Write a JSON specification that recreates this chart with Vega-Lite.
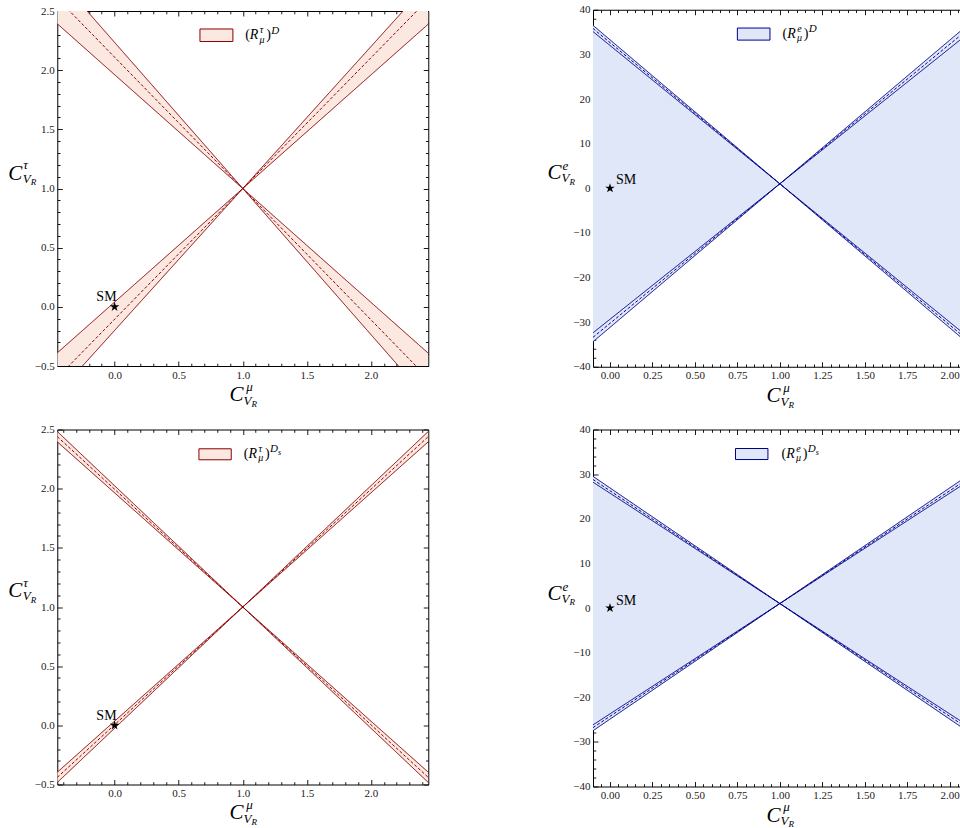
{
  "$schema": "https://vega.github.io/schema/vega-lite/v6.json",
  "background": "white",
  "padding": {"left": 8, "top": 3.5, "right": 0, "bottom": 0},
  "config": {
    "view": {"stroke": null},
    "axis": {"labelFont": "Liberation Serif", "labelFontSize": 11, "labelColor": "#222", "domainColor": "#000", "tickColor": "#000", "domainWidth": 1, "tickWidth": 0.9, "labelOverlap": false, "labelFlush": false, "grid": false, "zindex": 1, "labelPadding": 8},
    "text": {"font": "Liberation Serif", "color": "#000"}
  },
  "datasets": {
    "sm": [{"x": 0, "y": 0, "label": "SM"}],
    "tl_band": [
      {"branch": "down", "x": -0.447, "lo": 2.392, "hi": 2.787},
      {"branch": "down", "x": 1, "lo": 1, "hi": 1},
      {"branch": "down", "x": 2.447, "lo": -0.392, "hi": -0.787},
      {"branch": "up", "x": -0.447, "lo": -0.389, "hi": -0.736},
      {"branch": "up", "x": 1, "lo": 1, "hi": 1},
      {"branch": "up", "x": 2.447, "lo": 2.389, "hi": 2.736}
    ],
    "tl_lines": [
      {"line": "down_outer", "kind": "edge", "x": -0.447, "y": 2.392},
      {"line": "down_outer", "kind": "edge", "x": 2.447, "y": -0.392},
      {"line": "down_mid", "kind": "central", "x": -0.447, "y": 2.606},
      {"line": "down_mid", "kind": "central", "x": 2.447, "y": -0.606},
      {"line": "down_inner", "kind": "edge", "x": -0.447, "y": 2.787},
      {"line": "down_inner", "kind": "edge", "x": 2.447, "y": -0.787},
      {"line": "up_outer", "kind": "edge", "x": -0.447, "y": -0.389},
      {"line": "up_outer", "kind": "edge", "x": 2.447, "y": 2.389},
      {"line": "up_mid", "kind": "central", "x": -0.447, "y": -0.599},
      {"line": "up_mid", "kind": "central", "x": 2.447, "y": 2.599},
      {"line": "up_inner", "kind": "edge", "x": -0.447, "y": -0.736},
      {"line": "up_inner", "kind": "edge", "x": 2.447, "y": 2.736}
    ],
    "bl_band": [
      {"branch": "down", "x": -0.447, "lo": 2.396, "hi": 2.483},
      {"branch": "down", "x": 1, "lo": 1, "hi": 1},
      {"branch": "down", "x": 2.447, "lo": -0.396, "hi": -0.483},
      {"branch": "up", "x": -0.447, "lo": -0.396, "hi": -0.483},
      {"branch": "up", "x": 1, "lo": 1, "hi": 1},
      {"branch": "up", "x": 2.447, "lo": 2.396, "hi": 2.483}
    ],
    "bl_lines": [
      {"line": "down_outer", "kind": "edge", "x": -0.447, "y": 2.396},
      {"line": "down_outer", "kind": "edge", "x": 2.447, "y": -0.396},
      {"line": "down_mid", "kind": "central", "x": -0.447, "y": 2.44},
      {"line": "down_mid", "kind": "central", "x": 2.447, "y": -0.44},
      {"line": "down_inner", "kind": "edge", "x": -0.447, "y": 2.483},
      {"line": "down_inner", "kind": "edge", "x": 2.447, "y": -0.483},
      {"line": "up_outer", "kind": "edge", "x": -0.447, "y": -0.396},
      {"line": "up_outer", "kind": "edge", "x": 2.447, "y": 2.396},
      {"line": "up_mid", "kind": "central", "x": -0.447, "y": -0.44},
      {"line": "up_mid", "kind": "central", "x": 2.447, "y": 2.44},
      {"line": "up_inner", "kind": "edge", "x": -0.447, "y": -0.483},
      {"line": "up_inner", "kind": "edge", "x": 2.447, "y": 2.483}
    ],
    "tr_band": [
      {"branch": "wedge", "x": -0.1, "lo": -34.4, "hi": 36.5},
      {"branch": "wedge", "x": 1, "lo": 1, "hi": 1},
      {"branch": "wedge", "x": 2.1, "lo": -34.5, "hi": 36.4}
    ],
    "tr_lines": [
      {"line": "down_outer", "kind": "edge", "x": -0.1, "y": 36.5},
      {"line": "down_outer", "kind": "edge", "x": 2.1, "y": -34.5},
      {"line": "down_mid", "kind": "central", "x": -0.1, "y": 35.8},
      {"line": "down_mid", "kind": "central", "x": 2.1, "y": -33.8},
      {"line": "down_inner", "kind": "edge", "x": -0.1, "y": 35.1},
      {"line": "down_inner", "kind": "edge", "x": 2.1, "y": -33.1},
      {"line": "up_outer", "kind": "edge", "x": -0.1, "y": -34.4},
      {"line": "up_outer", "kind": "edge", "x": 2.1, "y": 36.4},
      {"line": "up_mid", "kind": "central", "x": -0.1, "y": -33.4},
      {"line": "up_mid", "kind": "central", "x": 2.1, "y": 35.4},
      {"line": "up_inner", "kind": "edge", "x": -0.1, "y": -32.4},
      {"line": "up_inner", "kind": "edge", "x": 2.1, "y": 34.4}
    ],
    "br_band": [
      {"branch": "wedge", "x": -0.1, "lo": -27.5, "hi": 29.5},
      {"branch": "wedge", "x": 1, "lo": 1, "hi": 1},
      {"branch": "wedge", "x": 2.1, "lo": -27.5, "hi": 29.5}
    ],
    "br_lines": [
      {"line": "down_outer", "kind": "edge", "x": -0.1, "y": 29.5},
      {"line": "down_outer", "kind": "edge", "x": 2.1, "y": -27.5},
      {"line": "down_mid", "kind": "central", "x": -0.1, "y": 28.8},
      {"line": "down_mid", "kind": "central", "x": 2.1, "y": -26.8},
      {"line": "down_inner", "kind": "edge", "x": -0.1, "y": 28.2},
      {"line": "down_inner", "kind": "edge", "x": 2.1, "y": -26.2},
      {"line": "up_outer", "kind": "edge", "x": -0.1, "y": -27.5},
      {"line": "up_outer", "kind": "edge", "x": 2.1, "y": 29.5},
      {"line": "up_mid", "kind": "central", "x": -0.1, "y": -26.8},
      {"line": "up_mid", "kind": "central", "x": 2.1, "y": 28.8},
      {"line": "up_inner", "kind": "edge", "x": -0.1, "y": -26.2},
      {"line": "up_inner", "kind": "edge", "x": 2.1, "y": 28.2}
    ]
  },
  "align": "each",
  "center": true,
  "columns": 2,
  "spacing": {"row": 13, "column": 118},
  "concat": [
    {
      "width": 371, "height": 355,
      "data": {"name": "sm"},
      "resolve": {"axis": {"x": "independent", "y": "independent"}},
      "layer": [
        {
          "layer": [
            {"data": {"name": "tl_band"}, "mark": {"type": "area", "fill": "#fbe8e1", "clip": true},
             "encoding": {
               "x": {"field": "x", "type": "quantitative", "scale": {"domain": [-0.447, 2.447], "nice": false, "zero": false},
                     "axis": {"orient": "bottom", "title": null, "values": [0, 0.5, 1, 1.5, 2], "format": ".1f", "tickSize": -5}},
               "y": {"field": "lo", "type": "quantitative", "scale": {"domain": [-0.5, 2.5], "nice": false, "zero": false},
                     "axis": {"orient": "left", "title": null, "values": [-0.5, 0, 0.5, 1, 1.5, 2, 2.5], "format": ".1f", "tickSize": -5}},
               "y2": {"field": "hi"},
               "detail": {"field": "branch", "type": "nominal"}
             }},
            {"data": {"name": "tl_lines"}, "mark": {"type": "line", "stroke": "#8b0000", "strokeWidth": 1, "clip": true},
             "encoding": {
               "x": {"field": "x", "type": "quantitative"},
               "y": {"field": "y", "type": "quantitative"},
               "detail": {"field": "line", "type": "nominal"},
               "strokeDash": {"field": "kind", "type": "nominal", "scale": {"domain": ["edge", "central"], "range": [[1, 0], [3, 2]]}, "legend": null}
             }},
            {"mark": {"type": "point", "shape": "M0,-1L0.2245,-0.309L0.951,-0.309L0.363,0.118L0.588,0.809L0,0.382L-0.588,0.809L-0.363,0.118L-0.951,-0.309L-0.2245,-0.309Z", "filled": true, "color": "#000", "size": 100, "opacity": 1},
             "encoding": {"x": {"field": "x", "type": "quantitative"}, "y": {"field": "y", "type": "quantitative"}}},
            {"mark": {"type": "text", "fontSize": 14, "align": "right", "baseline": "alphabetic", "dx": 2, "dy": -6},
             "encoding": {"x": {"field": "x", "type": "quantitative"}, "y": {"field": "y", "type": "quantitative"}, "text": {"field": "label"}}},
            {"mark": {"type": "rect", "fill": "#fbe8e1", "stroke": "#8b0000", "strokeWidth": 1},
             "encoding": {"x": {"datum": 0.666}, "x2": {"datum": 0.923}, "y": {"datum": 2.348}, "y2": {"datum": 2.242}}},
            {"mark": {"type": "text", "text": "(", "fontSize": 14, "align": "left", "baseline": "alphabetic", "dx": 2.4, "dy": 28}, "encoding": {"x": {"datum": 1}, "y": {"datum": 2.5}}},
            {"mark": {"type": "text", "text": "R", "fontSize": 14, "fontStyle": "italic", "align": "left", "baseline": "alphabetic", "dx": 7, "dy": 28}, "encoding": {"x": {"datum": 1}, "y": {"datum": 2.5}}},
            {"mark": {"type": "text", "text": "τ", "fontSize": 10, "fontStyle": "italic", "align": "left", "baseline": "alphabetic", "dx": 17, "dy": 22}, "encoding": {"x": {"datum": 1}, "y": {"datum": 2.5}}},
            {"mark": {"type": "text", "text": "μ", "fontSize": 10, "fontStyle": "italic", "align": "left", "baseline": "alphabetic", "dx": 16.8, "dy": 31.5}, "encoding": {"x": {"datum": 1}, "y": {"datum": 2.5}}},
            {"mark": {"type": "text", "text": ")", "fontSize": 14, "align": "left", "baseline": "alphabetic", "dx": 23.5, "dy": 28}, "encoding": {"x": {"datum": 1}, "y": {"datum": 2.5}}},
            {"mark": {"type": "text", "text": "D", "fontSize": 11, "fontStyle": "italic", "align": "left", "baseline": "alphabetic", "dx": 28.5, "dy": 22.5}, "encoding": {"x": {"datum": 1}, "y": {"datum": 2.5}}},
            {"mark": {"type": "text", "text": "C", "fontSize": 21, "fontStyle": "italic", "align": "left", "baseline": "alphabetic", "dx": -13.3, "dy": 35}, "encoding": {"x": {"datum": 1}, "y": {"datum": -0.5}}},
            {"mark": {"type": "text", "text": "μ", "fontSize": 13, "fontStyle": "italic", "align": "left", "baseline": "alphabetic", "dx": 3.4, "dy": 24.5}, "encoding": {"x": {"datum": 1}, "y": {"datum": -0.5}}},
            {"mark": {"type": "text", "text": "V", "fontSize": 13, "fontStyle": "italic", "align": "left", "baseline": "alphabetic", "dx": 0.7, "dy": 39}, "encoding": {"x": {"datum": 1}, "y": {"datum": -0.5}}},
            {"mark": {"type": "text", "text": "R", "fontSize": 9, "fontStyle": "italic", "align": "left", "baseline": "alphabetic", "dx": 8.7, "dy": 41}, "encoding": {"x": {"datum": 1}, "y": {"datum": -0.5}}},
            {"mark": {"type": "text", "text": "C", "fontSize": 21, "fontStyle": "italic", "align": "left", "baseline": "alphabetic", "dx": -49, "dy": -9}, "encoding": {"x": {"datum": -0.447}, "y": {"datum": 1}}},
            {"mark": {"type": "text", "text": "τ", "fontSize": 13, "fontStyle": "italic", "align": "left", "baseline": "alphabetic", "dx": -34, "dy": -19.5}, "encoding": {"x": {"datum": -0.447}, "y": {"datum": 1}}},
            {"mark": {"type": "text", "text": "V", "fontSize": 13, "fontStyle": "italic", "align": "left", "baseline": "alphabetic", "dx": -34.6, "dy": -6}, "encoding": {"x": {"datum": -0.447}, "y": {"datum": 1}}},
            {"mark": {"type": "text", "text": "R", "fontSize": 9, "fontStyle": "italic", "align": "left", "baseline": "alphabetic", "dx": -26.6, "dy": -3.5}, "encoding": {"x": {"datum": -0.447}, "y": {"datum": 1}}}
          ]
        },
        {"mark": {"type": "point", "opacity": 0},
         "encoding": {
           "x": {"field": "x", "type": "quantitative", "axis": {"orient": "top", "title": null, "labels": false, "values": [0, 0.5, 1, 1.5, 2], "tickSize": -5}},
           "y": {"field": "y", "type": "quantitative", "axis": {"orient": "right", "title": null, "labels": false, "values": [-0.5, 0, 0.5, 1, 1.5, 2, 2.5], "tickSize": -5}}
         }},
        {"mark": {"type": "point", "opacity": 0},
         "encoding": {
           "x": {"field": "x", "type": "quantitative", "axis": {"orient": "bottom", "title": null, "labels": false, "domain": false, "values": [-0.4,-0.3,-0.2,-0.1,0.1,0.2,0.3,0.4,0.6,0.7,0.8,0.9,1.1,1.2,1.3,1.4,1.6,1.7,1.8,1.9,2.1,2.2,2.3,2.4], "tickSize": -2.8}},
           "y": {"field": "y", "type": "quantitative", "axis": {"orient": "left", "title": null, "labels": false, "domain": false, "values": [-0.4,-0.3,-0.2,-0.1,0.1,0.2,0.3,0.4,0.6,0.7,0.8,0.9,1.1,1.2,1.3,1.4,1.6,1.7,1.8,1.9,2.1,2.2,2.3,2.4], "tickSize": -2.8}}
         }},
        {"mark": {"type": "point", "opacity": 0},
         "encoding": {
           "x": {"field": "x", "type": "quantitative", "axis": {"orient": "top", "title": null, "labels": false, "domain": false, "values": [-0.4,-0.3,-0.2,-0.1,0.1,0.2,0.3,0.4,0.6,0.7,0.8,0.9,1.1,1.2,1.3,1.4,1.6,1.7,1.8,1.9,2.1,2.2,2.3,2.4], "tickSize": -2.8}},
           "y": {"field": "y", "type": "quantitative", "axis": {"orient": "right", "title": null, "labels": false, "domain": false, "values": [-0.4,-0.3,-0.2,-0.1,0.1,0.2,0.3,0.4,0.6,0.7,0.8,0.9,1.1,1.2,1.3,1.4,1.6,1.7,1.8,1.9,2.1,2.2,2.3,2.4], "tickSize": -2.8}}
         }}
      ]
    },
    {
      "width": 367, "height": 357,
      "data": {"name": "sm"},
      "resolve": {"axis": {"x": "independent", "y": "independent"}},
      "layer": [
        {
          "layer": [
            {"data": {"name": "tr_band"}, "mark": {"type": "area", "fill": "#dfe7f9", "clip": true},
             "encoding": {
               "x": {"field": "x", "type": "quantitative", "scale": {"domain": [-0.1, 2.0607], "nice": false, "zero": false},
                     "axis": {"orient": "bottom", "title": null, "values": [0,0.25,0.5,0.75,1,1.25,1.5,1.75,2], "format": ".2f", "tickSize": -5}},
               "y": {"field": "lo", "type": "quantitative", "scale": {"domain": [-40, 40], "nice": false, "zero": false},
                     "axis": {"orient": "left", "title": null, "values": [-40,-30,-20,-10,0,10,20,30,40], "format": "d", "tickSize": -5}},
               "y2": {"field": "hi"},
               "detail": {"field": "branch", "type": "nominal"}
             }},
            {"data": {"name": "tr_lines"}, "mark": {"type": "line", "stroke": "#00008b", "strokeWidth": 1, "clip": true},
             "encoding": {
               "x": {"field": "x", "type": "quantitative"},
               "y": {"field": "y", "type": "quantitative"},
               "detail": {"field": "line", "type": "nominal"},
               "strokeDash": {"field": "kind", "type": "nominal", "scale": {"domain": ["edge", "central"], "range": [[1, 0], [3, 2]]}, "legend": null}
             }},
            {"mark": {"type": "point", "shape": "M0,-1L0.2245,-0.309L0.951,-0.309L0.363,0.118L0.588,0.809L0,0.382L-0.588,0.809L-0.363,0.118L-0.951,-0.309L-0.2245,-0.309Z", "filled": true, "color": "#000", "size": 100, "opacity": 1},
             "encoding": {"x": {"field": "x", "type": "quantitative"}, "y": {"field": "y", "type": "quantitative"}}},
            {"mark": {"type": "text", "fontSize": 14, "align": "left", "baseline": "alphabetic", "dx": 6, "dy": -4.5},
             "encoding": {"x": {"field": "x", "type": "quantitative"}, "y": {"field": "y", "type": "quantitative"}, "text": {"field": "label"}}},
            {"mark": {"type": "rect", "fill": "#dfe7f9", "stroke": "#00008b", "strokeWidth": 1},
             "encoding": {"x": {"datum": 0.75}, "x2": {"datum": 0.942}, "y": {"datum": 35.9}, "y2": {"datum": 33.2}}},
            {"mark": {"type": "text", "text": "(", "fontSize": 14, "align": "left", "baseline": "alphabetic", "dx": 2.7, "dy": 28}, "encoding": {"x": {"datum": 1}, "y": {"datum": 40}}},
            {"mark": {"type": "text", "text": "R", "fontSize": 14, "fontStyle": "italic", "align": "left", "baseline": "alphabetic", "dx": 7.3, "dy": 28}, "encoding": {"x": {"datum": 1}, "y": {"datum": 40}}},
            {"mark": {"type": "text", "text": "e", "fontSize": 10, "fontStyle": "italic", "align": "left", "baseline": "alphabetic", "dx": 17.3, "dy": 22}, "encoding": {"x": {"datum": 1}, "y": {"datum": 40}}},
            {"mark": {"type": "text", "text": "μ", "fontSize": 10, "fontStyle": "italic", "align": "left", "baseline": "alphabetic", "dx": 17.1, "dy": 31.5}, "encoding": {"x": {"datum": 1}, "y": {"datum": 40}}},
            {"mark": {"type": "text", "text": ")", "fontSize": 14, "align": "left", "baseline": "alphabetic", "dx": 23.8, "dy": 28}, "encoding": {"x": {"datum": 1}, "y": {"datum": 40}}},
            {"mark": {"type": "text", "text": "D", "fontSize": 11, "fontStyle": "italic", "align": "left", "baseline": "alphabetic", "dx": 28.8, "dy": 22.5}, "encoding": {"x": {"datum": 1}, "y": {"datum": 40}}},
            {"mark": {"type": "text", "text": "C", "fontSize": 21, "fontStyle": "italic", "align": "left", "baseline": "alphabetic", "dx": -13.3, "dy": 35.5}, "encoding": {"x": {"datum": 1}, "y": {"datum": -40}}},
            {"mark": {"type": "text", "text": "μ", "fontSize": 13, "fontStyle": "italic", "align": "left", "baseline": "alphabetic", "dx": 3.4, "dy": 25}, "encoding": {"x": {"datum": 1}, "y": {"datum": -40}}},
            {"mark": {"type": "text", "text": "V", "fontSize": 13, "fontStyle": "italic", "align": "left", "baseline": "alphabetic", "dx": 0.7, "dy": 39.5}, "encoding": {"x": {"datum": 1}, "y": {"datum": -40}}},
            {"mark": {"type": "text", "text": "R", "fontSize": 9, "fontStyle": "italic", "align": "left", "baseline": "alphabetic", "dx": 8.7, "dy": 41.5}, "encoding": {"x": {"datum": 1}, "y": {"datum": -40}}},
            {"mark": {"type": "text", "text": "C", "fontSize": 21, "fontStyle": "italic", "align": "left", "baseline": "alphabetic", "dx": -45.6, "dy": -9}, "encoding": {"x": {"datum": -0.1}, "y": {"datum": 0}}},
            {"mark": {"type": "text", "text": "e", "fontSize": 13, "fontStyle": "italic", "align": "left", "baseline": "alphabetic", "dx": -30.6, "dy": -18}, "encoding": {"x": {"datum": -0.1}, "y": {"datum": 0}}},
            {"mark": {"type": "text", "text": "V", "fontSize": 13, "fontStyle": "italic", "align": "left", "baseline": "alphabetic", "dx": -31.5, "dy": -6}, "encoding": {"x": {"datum": -0.1}, "y": {"datum": 0}}},
            {"mark": {"type": "text", "text": "R", "fontSize": 9, "fontStyle": "italic", "align": "left", "baseline": "alphabetic", "dx": -23.5, "dy": -3.5}, "encoding": {"x": {"datum": -0.1}, "y": {"datum": 0}}}
          ]
        },
        {"mark": {"type": "point", "opacity": 0},
         "encoding": {
           "x": {"field": "x", "type": "quantitative", "axis": {"orient": "top", "title": null, "labels": false, "values": [0,0.25,0.5,0.75,1,1.25,1.5,1.75,2], "tickSize": -5}},
           "y": {"field": "y", "type": "quantitative", "axis": null}
         }},
        {"mark": {"type": "point", "opacity": 0},
         "encoding": {
           "x": {"field": "x", "type": "quantitative", "axis": {"orient": "bottom", "title": null, "labels": false, "domain": false, "values": [-0.05,0.05,0.1,0.15,0.2,0.3,0.35,0.4,0.45,0.55,0.6,0.65,0.7,0.8,0.85,0.9,0.95,1.05,1.1,1.15,1.2,1.3,1.35,1.4,1.45,1.55,1.6,1.65,1.7,1.8,1.85,1.9,1.95,2.05], "tickSize": -2.8}},
           "y": {"field": "y", "type": "quantitative", "axis": {"orient": "left", "title": null, "labels": false, "domain": false, "values": [-38,-36,-34,-32,-28,-26,-24,-22,-18,-16,-14,-12,-8,-6,-4,-2,2,4,6,8,12,14,16,18,22,24,26,28,32,34,36,38], "tickSize": -2.8}}
         }},
        {"mark": {"type": "point", "opacity": 0},
         "encoding": {
           "x": {"field": "x", "type": "quantitative", "axis": {"orient": "top", "title": null, "labels": false, "domain": false, "values": [-0.05,0.05,0.1,0.15,0.2,0.3,0.35,0.4,0.45,0.55,0.6,0.65,0.7,0.8,0.85,0.9,0.95,1.05,1.1,1.15,1.2,1.3,1.35,1.4,1.45,1.55,1.6,1.65,1.7,1.8,1.85,1.9,1.95,2.05], "tickSize": -2.8}},
           "y": {"field": "y", "type": "quantitative", "axis": null}
         }}
      ]
    },
    {
      "width": 371, "height": 355,
      "data": {"name": "sm"},
      "resolve": {"axis": {"x": "independent", "y": "independent"}},
      "layer": [
        {
          "layer": [
            {"data": {"name": "bl_band"}, "mark": {"type": "area", "fill": "#fbe8e1", "clip": true},
             "encoding": {
               "x": {"field": "x", "type": "quantitative", "scale": {"domain": [-0.447, 2.447], "nice": false, "zero": false},
                     "axis": {"orient": "bottom", "title": null, "values": [0, 0.5, 1, 1.5, 2], "format": ".1f", "tickSize": -5}},
               "y": {"field": "lo", "type": "quantitative", "scale": {"domain": [-0.5, 2.5], "nice": false, "zero": false},
                     "axis": {"orient": "left", "title": null, "values": [-0.5, 0, 0.5, 1, 1.5, 2, 2.5], "format": ".1f", "tickSize": -5}},
               "y2": {"field": "hi"},
               "detail": {"field": "branch", "type": "nominal"}
             }},
            {"data": {"name": "bl_lines"}, "mark": {"type": "line", "stroke": "#8b0000", "strokeWidth": 1, "clip": true},
             "encoding": {
               "x": {"field": "x", "type": "quantitative"},
               "y": {"field": "y", "type": "quantitative"},
               "detail": {"field": "line", "type": "nominal"},
               "strokeDash": {"field": "kind", "type": "nominal", "scale": {"domain": ["edge", "central"], "range": [[1, 0], [3, 2]]}, "legend": null}
             }},
            {"mark": {"type": "point", "shape": "M0,-1L0.2245,-0.309L0.951,-0.309L0.363,0.118L0.588,0.809L0,0.382L-0.588,0.809L-0.363,0.118L-0.951,-0.309L-0.2245,-0.309Z", "filled": true, "color": "#000", "size": 100, "opacity": 1},
             "encoding": {"x": {"field": "x", "type": "quantitative"}, "y": {"field": "y", "type": "quantitative"}}},
            {"mark": {"type": "text", "fontSize": 14, "align": "right", "baseline": "alphabetic", "dx": 2, "dy": -5.5},
             "encoding": {"x": {"field": "x", "type": "quantitative"}, "y": {"field": "y", "type": "quantitative"}, "text": {"field": "label"}}},
            {"mark": {"type": "rect", "fill": "#fbe8e1", "stroke": "#8b0000", "strokeWidth": 1},
             "encoding": {"x": {"datum": 0.658}, "x2": {"datum": 0.91}, "y": {"datum": 2.337}, "y2": {"datum": 2.244}}},
            {"mark": {"type": "text", "text": "(", "fontSize": 14, "align": "left", "baseline": "alphabetic", "dx": 1, "dy": 28}, "encoding": {"x": {"datum": 1}, "y": {"datum": 2.5}}},
            {"mark": {"type": "text", "text": "R", "fontSize": 14, "fontStyle": "italic", "align": "left", "baseline": "alphabetic", "dx": 5.6, "dy": 28}, "encoding": {"x": {"datum": 1}, "y": {"datum": 2.5}}},
            {"mark": {"type": "text", "text": "τ", "fontSize": 10, "fontStyle": "italic", "align": "left", "baseline": "alphabetic", "dx": 15.6, "dy": 22}, "encoding": {"x": {"datum": 1}, "y": {"datum": 2.5}}},
            {"mark": {"type": "text", "text": "μ", "fontSize": 10, "fontStyle": "italic", "align": "left", "baseline": "alphabetic", "dx": 15.4, "dy": 31.5}, "encoding": {"x": {"datum": 1}, "y": {"datum": 2.5}}},
            {"mark": {"type": "text", "text": ")", "fontSize": 14, "align": "left", "baseline": "alphabetic", "dx": 22.1, "dy": 28}, "encoding": {"x": {"datum": 1}, "y": {"datum": 2.5}}},
            {"mark": {"type": "text", "text": "D", "fontSize": 11, "fontStyle": "italic", "align": "left", "baseline": "alphabetic", "dx": 27.1, "dy": 22.5}, "encoding": {"x": {"datum": 1}, "y": {"datum": 2.5}}},
            {"mark": {"type": "text", "text": "s", "fontSize": 8, "fontStyle": "italic", "align": "left", "baseline": "alphabetic", "dx": 35.3, "dy": 25}, "encoding": {"x": {"datum": 1}, "y": {"datum": 2.5}}},
            {"mark": {"type": "text", "text": "C", "fontSize": 21, "fontStyle": "italic", "align": "left", "baseline": "alphabetic", "dx": -13.3, "dy": 34.5}, "encoding": {"x": {"datum": 1}, "y": {"datum": -0.5}}},
            {"mark": {"type": "text", "text": "μ", "fontSize": 13, "fontStyle": "italic", "align": "left", "baseline": "alphabetic", "dx": 3.4, "dy": 24}, "encoding": {"x": {"datum": 1}, "y": {"datum": -0.5}}},
            {"mark": {"type": "text", "text": "V", "fontSize": 13, "fontStyle": "italic", "align": "left", "baseline": "alphabetic", "dx": 0.7, "dy": 38}, "encoding": {"x": {"datum": 1}, "y": {"datum": -0.5}}},
            {"mark": {"type": "text", "text": "R", "fontSize": 9, "fontStyle": "italic", "align": "left", "baseline": "alphabetic", "dx": 8.7, "dy": 40}, "encoding": {"x": {"datum": 1}, "y": {"datum": -0.5}}},
            {"mark": {"type": "text", "text": "C", "fontSize": 21, "fontStyle": "italic", "align": "left", "baseline": "alphabetic", "dx": -49, "dy": -9.8}, "encoding": {"x": {"datum": -0.447}, "y": {"datum": 1}}},
            {"mark": {"type": "text", "text": "τ", "fontSize": 13, "fontStyle": "italic", "align": "left", "baseline": "alphabetic", "dx": -34, "dy": -20.3}, "encoding": {"x": {"datum": -0.447}, "y": {"datum": 1}}},
            {"mark": {"type": "text", "text": "V", "fontSize": 13, "fontStyle": "italic", "align": "left", "baseline": "alphabetic", "dx": -34.6, "dy": -6.8}, "encoding": {"x": {"datum": -0.447}, "y": {"datum": 1}}},
            {"mark": {"type": "text", "text": "R", "fontSize": 9, "fontStyle": "italic", "align": "left", "baseline": "alphabetic", "dx": -26.6, "dy": -4.3}, "encoding": {"x": {"datum": -0.447}, "y": {"datum": 1}}}
          ]
        },
        {"mark": {"type": "point", "opacity": 0},
         "encoding": {
           "x": {"field": "x", "type": "quantitative", "axis": {"orient": "top", "title": null, "labels": false, "values": [0, 0.5, 1, 1.5, 2], "tickSize": -5}},
           "y": {"field": "y", "type": "quantitative", "axis": {"orient": "right", "title": null, "labels": false, "values": [-0.5, 0, 0.5, 1, 1.5, 2, 2.5], "tickSize": -5}}
         }},
        {"mark": {"type": "point", "opacity": 0},
         "encoding": {
           "x": {"field": "x", "type": "quantitative", "axis": {"orient": "bottom", "title": null, "labels": false, "domain": false, "values": [-0.4,-0.3,-0.2,-0.1,0.1,0.2,0.3,0.4,0.6,0.7,0.8,0.9,1.1,1.2,1.3,1.4,1.6,1.7,1.8,1.9,2.1,2.2,2.3,2.4], "tickSize": -2.8}},
           "y": {"field": "y", "type": "quantitative", "axis": {"orient": "left", "title": null, "labels": false, "domain": false, "values": [-0.4,-0.3,-0.2,-0.1,0.1,0.2,0.3,0.4,0.6,0.7,0.8,0.9,1.1,1.2,1.3,1.4,1.6,1.7,1.8,1.9,2.1,2.2,2.3,2.4], "tickSize": -2.8}}
         }},
        {"mark": {"type": "point", "opacity": 0},
         "encoding": {
           "x": {"field": "x", "type": "quantitative", "axis": {"orient": "top", "title": null, "labels": false, "domain": false, "values": [-0.4,-0.3,-0.2,-0.1,0.1,0.2,0.3,0.4,0.6,0.7,0.8,0.9,1.1,1.2,1.3,1.4,1.6,1.7,1.8,1.9,2.1,2.2,2.3,2.4], "tickSize": -2.8}},
           "y": {"field": "y", "type": "quantitative", "axis": {"orient": "right", "title": null, "labels": false, "domain": false, "values": [-0.4,-0.3,-0.2,-0.1,0.1,0.2,0.3,0.4,0.6,0.7,0.8,0.9,1.1,1.2,1.3,1.4,1.6,1.7,1.8,1.9,2.1,2.2,2.3,2.4], "tickSize": -2.8}}
         }}
      ]
    },
    {
      "width": 367, "height": 357,
      "data": {"name": "sm"},
      "resolve": {"axis": {"x": "independent", "y": "independent"}},
      "layer": [
        {
          "layer": [
            {"data": {"name": "br_band"}, "mark": {"type": "area", "fill": "#dfe7f9", "clip": true},
             "encoding": {
               "x": {"field": "x", "type": "quantitative", "scale": {"domain": [-0.1, 2.0607], "nice": false, "zero": false},
                     "axis": {"orient": "bottom", "title": null, "values": [0,0.25,0.5,0.75,1,1.25,1.5,1.75,2], "format": ".2f", "tickSize": -5}},
               "y": {"field": "lo", "type": "quantitative", "scale": {"domain": [-40, 40], "nice": false, "zero": false},
                     "axis": {"orient": "left", "title": null, "values": [-40,-30,-20,-10,0,10,20,30,40], "format": "d", "tickSize": -5}},
               "y2": {"field": "hi"},
               "detail": {"field": "branch", "type": "nominal"}
             }},
            {"data": {"name": "br_lines"}, "mark": {"type": "line", "stroke": "#00008b", "strokeWidth": 1, "clip": true},
             "encoding": {
               "x": {"field": "x", "type": "quantitative"},
               "y": {"field": "y", "type": "quantitative"},
               "detail": {"field": "line", "type": "nominal"},
               "strokeDash": {"field": "kind", "type": "nominal", "scale": {"domain": ["edge", "central"], "range": [[1, 0], [3, 2]]}, "legend": null}
             }},
            {"mark": {"type": "point", "shape": "M0,-1L0.2245,-0.309L0.951,-0.309L0.363,0.118L0.588,0.809L0,0.382L-0.588,0.809L-0.363,0.118L-0.951,-0.309L-0.2245,-0.309Z", "filled": true, "color": "#000", "size": 100, "opacity": 1},
             "encoding": {"x": {"field": "x", "type": "quantitative"}, "y": {"field": "y", "type": "quantitative"}}},
            {"mark": {"type": "text", "fontSize": 14, "align": "left", "baseline": "alphabetic", "dx": 6, "dy": -3.3},
             "encoding": {"x": {"field": "x", "type": "quantitative"}, "y": {"field": "y", "type": "quantitative"}, "text": {"field": "label"}}},
            {"mark": {"type": "rect", "fill": "#dfe7f9", "stroke": "#00008b", "strokeWidth": 1},
             "encoding": {"x": {"datum": 0.739}, "x2": {"datum": 0.93}, "y": {"datum": 35.74}, "y2": {"datum": 33.27}}},
            {"mark": {"type": "text", "text": "(", "fontSize": 14, "align": "left", "baseline": "alphabetic", "dx": 1.7, "dy": 28}, "encoding": {"x": {"datum": 1}, "y": {"datum": 40}}},
            {"mark": {"type": "text", "text": "R", "fontSize": 14, "fontStyle": "italic", "align": "left", "baseline": "alphabetic", "dx": 6.3, "dy": 28}, "encoding": {"x": {"datum": 1}, "y": {"datum": 40}}},
            {"mark": {"type": "text", "text": "e", "fontSize": 10, "fontStyle": "italic", "align": "left", "baseline": "alphabetic", "dx": 16.3, "dy": 22}, "encoding": {"x": {"datum": 1}, "y": {"datum": 40}}},
            {"mark": {"type": "text", "text": "μ", "fontSize": 10, "fontStyle": "italic", "align": "left", "baseline": "alphabetic", "dx": 16.1, "dy": 31.5}, "encoding": {"x": {"datum": 1}, "y": {"datum": 40}}},
            {"mark": {"type": "text", "text": ")", "fontSize": 14, "align": "left", "baseline": "alphabetic", "dx": 22.8, "dy": 28}, "encoding": {"x": {"datum": 1}, "y": {"datum": 40}}},
            {"mark": {"type": "text", "text": "D", "fontSize": 11, "fontStyle": "italic", "align": "left", "baseline": "alphabetic", "dx": 27.8, "dy": 22.5}, "encoding": {"x": {"datum": 1}, "y": {"datum": 40}}},
            {"mark": {"type": "text", "text": "s", "fontSize": 8, "fontStyle": "italic", "align": "left", "baseline": "alphabetic", "dx": 36, "dy": 25}, "encoding": {"x": {"datum": 1}, "y": {"datum": 40}}},
            {"mark": {"type": "text", "text": "C", "fontSize": 21, "fontStyle": "italic", "align": "left", "baseline": "alphabetic", "dx": -13.3, "dy": 35}, "encoding": {"x": {"datum": 1}, "y": {"datum": -40}}},
            {"mark": {"type": "text", "text": "μ", "fontSize": 13, "fontStyle": "italic", "align": "left", "baseline": "alphabetic", "dx": 3.4, "dy": 24.5}, "encoding": {"x": {"datum": 1}, "y": {"datum": -40}}},
            {"mark": {"type": "text", "text": "V", "fontSize": 13, "fontStyle": "italic", "align": "left", "baseline": "alphabetic", "dx": 0.7, "dy": 38.5}, "encoding": {"x": {"datum": 1}, "y": {"datum": -40}}},
            {"mark": {"type": "text", "text": "R", "fontSize": 9, "fontStyle": "italic", "align": "left", "baseline": "alphabetic", "dx": 8.7, "dy": 40.5}, "encoding": {"x": {"datum": 1}, "y": {"datum": -40}}},
            {"mark": {"type": "text", "text": "C", "fontSize": 21, "fontStyle": "italic", "align": "left", "baseline": "alphabetic", "dx": -45.6, "dy": -8.3}, "encoding": {"x": {"datum": -0.1}, "y": {"datum": 0}}},
            {"mark": {"type": "text", "text": "e", "fontSize": 13, "fontStyle": "italic", "align": "left", "baseline": "alphabetic", "dx": -30.6, "dy": -17.3}, "encoding": {"x": {"datum": -0.1}, "y": {"datum": 0}}},
            {"mark": {"type": "text", "text": "V", "fontSize": 13, "fontStyle": "italic", "align": "left", "baseline": "alphabetic", "dx": -31.5, "dy": -5.3}, "encoding": {"x": {"datum": -0.1}, "y": {"datum": 0}}},
            {"mark": {"type": "text", "text": "R", "fontSize": 9, "fontStyle": "italic", "align": "left", "baseline": "alphabetic", "dx": -23.5, "dy": -2.8}, "encoding": {"x": {"datum": -0.1}, "y": {"datum": 0}}}
          ]
        },
        {"mark": {"type": "point", "opacity": 0},
         "encoding": {
           "x": {"field": "x", "type": "quantitative", "axis": {"orient": "top", "title": null, "labels": false, "values": [0,0.25,0.5,0.75,1,1.25,1.5,1.75,2], "tickSize": -5}},
           "y": {"field": "y", "type": "quantitative", "axis": null}
         }},
        {"mark": {"type": "point", "opacity": 0},
         "encoding": {
           "x": {"field": "x", "type": "quantitative", "axis": {"orient": "bottom", "title": null, "labels": false, "domain": false, "values": [-0.05,0.05,0.1,0.15,0.2,0.3,0.35,0.4,0.45,0.55,0.6,0.65,0.7,0.8,0.85,0.9,0.95,1.05,1.1,1.15,1.2,1.3,1.35,1.4,1.45,1.55,1.6,1.65,1.7,1.8,1.85,1.9,1.95,2.05], "tickSize": -2.8}},
           "y": {"field": "y", "type": "quantitative", "axis": {"orient": "left", "title": null, "labels": false, "domain": false, "values": [-38,-36,-34,-32,-28,-26,-24,-22,-18,-16,-14,-12,-8,-6,-4,-2,2,4,6,8,12,14,16,18,22,24,26,28,32,34,36,38], "tickSize": -2.8}}
         }},
        {"mark": {"type": "point", "opacity": 0},
         "encoding": {
           "x": {"field": "x", "type": "quantitative", "axis": {"orient": "top", "title": null, "labels": false, "domain": false, "values": [-0.05,0.05,0.1,0.15,0.2,0.3,0.35,0.4,0.45,0.55,0.6,0.65,0.7,0.8,0.85,0.9,0.95,1.05,1.1,1.15,1.2,1.3,1.35,1.4,1.45,1.55,1.6,1.65,1.7,1.8,1.85,1.9,1.95,2.05], "tickSize": -2.8}},
           "y": {"field": "y", "type": "quantitative", "axis": null}
         }}
      ]
    }
  ]
}
